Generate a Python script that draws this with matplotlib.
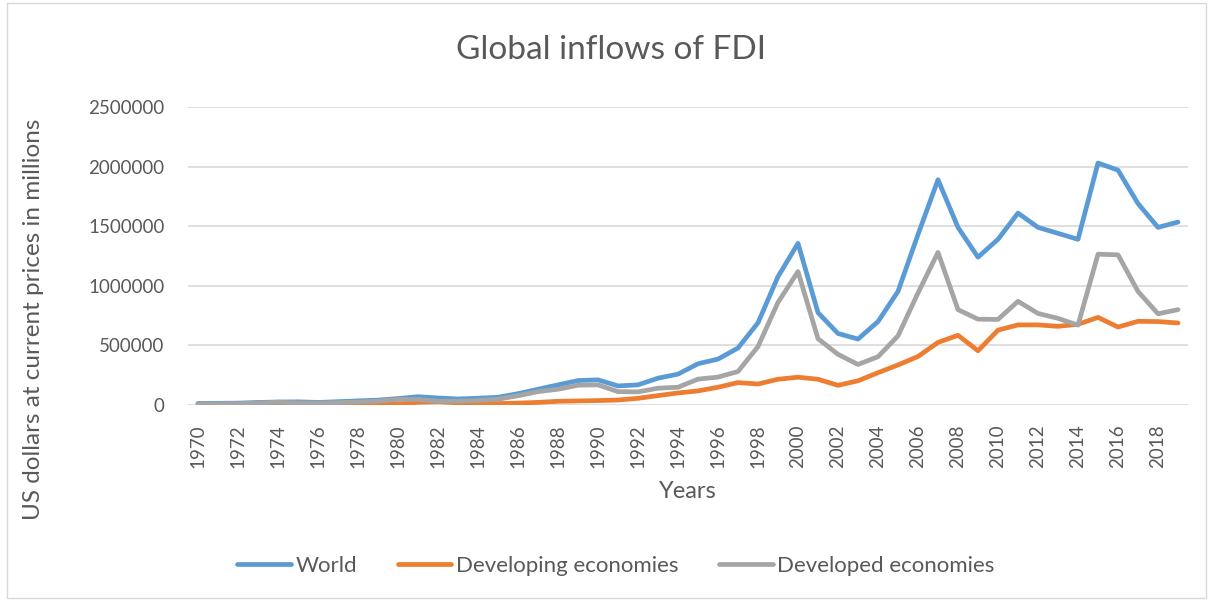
import matplotlib
matplotlib.use('Agg')
import matplotlib.pyplot as plt
from matplotlib.patches import Rectangle
from matplotlib.ticker import FixedLocator

# --- DATA (US$ millions) ---
years = list(range(1970, 2020))

world = [13346, 14052, 15569, 21340, 25236, 26676, 21474, 27613, 34893, 40848,
         54078, 69455, 58779, 50683, 56845, 65000, 95000, 132000, 169000, 205000,
         211000, 160000, 169000, 225000, 259000, 346000, 385000, 478000, 690000, 1077000,
         1356000, 775000, 600000, 553000, 700000, 953000, 1430000, 1890000, 1490000, 1240000,
         1390000, 1610000, 1490000, 1440000, 1390000, 2030000, 1970000, 1690000, 1490000, 1535000]

developing = [3900, 4700, 4300, 5200, 2200, 9600, 4900, 7600, 9500, 8400,
              7400, 22900, 27500, 18500, 19300, 12000, 16000, 22000, 31000, 34000,
              37000, 42000, 56000, 79000, 101000, 118000, 149000, 188000, 176000, 216000,
              233000, 216000, 165000, 203000, 271000, 336000, 407000, 525000, 585000, 455000,
              628000, 672000, 672000, 660000, 677000, 735000, 654000, 702000, 700000, 688000]

developed = [9500, 9300, 11300, 16100, 23000, 17500, 16600, 20000, 25400, 32400,
             46600, 46500, 31300, 32000, 37600, 48000, 78000, 112000, 132000, 166000,
             169000, 112000, 110000, 141000, 149000, 217000, 234000, 281000, 490000, 861000,
             1119000, 556000, 425000, 340000, 405000, 580000, 940000, 1280000, 800000, 720000,
             718000, 870000, 768000, 727000, 670000, 1265000, 1260000, 953000, 765000, 800000]

series_names = ["World", "Developing economies", "Developed economies"]
series_colors = ['#5B9BD5', '#ED7D31', '#A5A5A5']
y_ticks = [0, 500000, 1000000, 1500000, 2000000, 2500000]

# --- STYLE ---
plt.rcParams['font.family'] = ['Lato', 'DejaVu Sans']
TXT = '#595959'
W, H = 1213, 601

fig = plt.figure(figsize=(W / 100, H / 100), dpi=100)
ax = fig.add_axes([188 / W, 1 - 405 / H, 1000 / W, 298 / H])

for vals, name, col in zip([world, developing, developed], series_names, series_colors):
    ax.plot(years, vals, color=col, lw=3.4, label=name,
            solid_joinstyle='round', solid_capstyle='round')

ax.set_xlim(1969.5, 2019.5)
ax.set_ylim(0, 2500000)
ax.yaxis.set_major_locator(FixedLocator(y_ticks))
ax.set_yticklabels([str(v) for v in y_ticks])
ax.set_xticks(years[::2])
ax.set_xticklabels([str(y) for y in years[::2]], rotation=90)

ax.grid(axis='y', color='#D9D9D9', lw=1.2)
ax.set_axisbelow(True)
for s in ax.spines.values():
    s.set_visible(False)
ax.tick_params(length=0, colors=TXT, labelsize=13.5)
ax.tick_params(axis='y', pad=17)
ax.tick_params(axis='x', pad=14)

# titles
fig.text(611 / W, 1 - 50 / H, "Global inflows of FDI", ha='center', va='center',
         fontsize=24, color=TXT)
fig.text(688 / W, 1 - 492 / H, "Years", ha='center', va='center',
         fontsize=17, color=TXT)
fig.text(34 / W, 1 - 319 / H, "US dollars at current prices in millions", ha='center',
         va='center', rotation=90, fontsize=17.5, color=TXT)

# legend
fig.legend(loc='center', bbox_to_anchor=(616 / W, 1 - 566 / H), ncol=3, frameon=False,
           fontsize=16, labelcolor=TXT, handlelength=2.4, handletextpad=0.2,
           columnspacing=1.85)

# outer border
fig.patches.append(Rectangle((7 / W, 3 / H), 1 - 14 / W, 1 - 6 / H, fill=False,
                             edgecolor='#D9D9D9', lw=1, transform=fig.transFigure,
                             figure=fig))

fig.savefig('out.png', dpi=100)
